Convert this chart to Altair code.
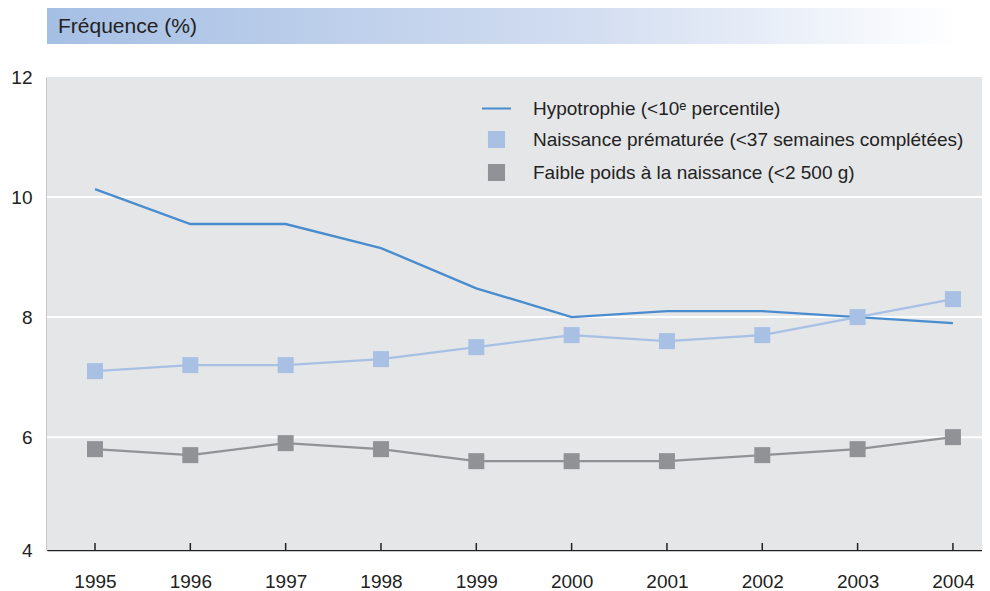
import altair as alt
import pandas as pd

years = [1995, 1996, 1997, 1998, 1999, 2000, 2001, 2002, 2003, 2004]
series_names = [
    "Hypotrophie (<10ᵉ percentile)",
    "Naissance prématurée (<37 semaines complétées)",
    "Faible poids à la naissance (<2 500 g)",
]
hypotrophie = [10.13, 9.55, 9.55, 9.15, 8.48, 8.0, 8.1, 8.1, 8.0, 7.9]
premature = [7.1, 7.2, 7.2, 7.3, 7.5, 7.7, 7.6, 7.7, 8.0, 8.3]
faible_poids = [5.8, 5.7, 5.9, 5.8, 5.6, 5.6, 5.6, 5.7, 5.8, 6.0]
colors = ["#4a8dcf", "#a7c0e4", "#919295"]
y_min, y_max = 4.12, 12
y_ticks = [y_min, 6, 8, 10, 12]
grid_values = [6, 8, 10]

rows = []
for name, vals in zip(series_names, [hypotrophie, premature, faible_poids]):
    for yr, v in zip(years, vals):
        rows.append({"year": yr, "series": name, "value": v})
df = pd.DataFrame(rows)
ticks_df = pd.DataFrame({"year": years})
grid_df = pd.DataFrame({"value": grid_values})

W, H = 935, 473
FONT = "Liberation Sans"

xscale = alt.Scale(domain=[1994.4965, 2004.305], nice=False, zero=False)
yscale = alt.Scale(domain=[y_min, y_max], nice=False, zero=False)
cscale = alt.Scale(domain=series_names, range=colors)

x_enc = alt.X("year:Q", scale=xscale,
              axis=alt.Axis(values=years, format="d", title=None, grid=False,
                            ticks=False, tickSize=0, labelPadding=22,
                            labelFontSize=19, labelColor="#222222", labelFont=FONT,
                            domainColor="#222222", domainWidth=1.5))
y_enc = alt.Y("value:Q", scale=yscale,
              axis=alt.Axis(values=y_ticks, labelExpr="round(datum.value)", title=None,
                            grid=False, ticks=False, tickSize=0, labelPadding=15,
                            labelFontSize=19, labelColor="#222222", labelFont=FONT,
                            domainColor="#222222", domainWidth=1.5))

bg = alt.Chart(pd.DataFrame({"a": [0]})).mark_rect(fill="#e5e6e8").encode(
    x=alt.value(0), x2=alt.value(W), y=alt.value(0), y2=alt.value(H)
)

band = alt.Chart(pd.DataFrame({"t": ["Fréquence (%)"]})).mark_rect(
    fill=alt.Gradient(gradient="linear",
                      stops=[alt.GradientStop(color="#a5bfe4", offset=0),
                             alt.GradientStop(color="#d3def1", offset=0.6),
                             alt.GradientStop(color="#ffffff", offset=1)],
                      x1=0, x2=1, y1=0, y2=0)
).encode(x=alt.value(0), x2=alt.value(912), y=alt.value(-69), y2=alt.value(-33))

title_text = alt.Chart(pd.DataFrame({"t": ["Fréquence (%)"]})).mark_text(
    align="left", baseline="middle", fontSize=21, font=FONT, color="#222222"
).encode(text="t:N", x=alt.value(11), y=alt.value(-50))

grid = alt.Chart(grid_df).mark_rule(color="white", strokeWidth=2).encode(
    y=alt.Y("value:Q", scale=yscale), x=alt.value(0), x2=alt.value(W)
)

lines = alt.Chart(df).mark_line(strokeWidth=2.4).encode(
    x=x_enc, y=y_enc,
    color=alt.Color("series:N", scale=cscale, legend=None),
    order="year:Q",
)

square_path = "M-0.52,-0.52L0.52,-0.52L0.52,0.52L-0.52,0.52Z"
points = alt.Chart(df).transform_filter(
    alt.datum.series != series_names[0]
).mark_square(size=256, filled=True, opacity=1).encode(
    x=x_enc, y=y_enc,
    color=alt.Color("series:N", scale=cscale,
                    legend=alt.Legend(
                        title=None, orient="none", legendX=434, legendY=16,
                        padding=0, labelFontSize=19, labelFont=FONT,
                        labelColor="#222222", labelOffset=21, rowPadding=5,
                        symbolSize=841, symbolStrokeWidth=2,
                        symbolOpacity=1,
                        symbolType=alt.ExprRef(
                            expr=f"datum.value == '{series_names[0]}' ? 'stroke' : '{square_path}'"),
                        symbolStrokeColor=alt.ExprRef(expr="scale('color', datum.value)"),
                        labelLimit=600,
                    )),
)

tick_rules = alt.Chart(ticks_df).mark_rule(color="#222222", strokeWidth=1.5).encode(
    x=alt.X("year:Q", scale=xscale), y=alt.value(H - 7), y2=alt.value(H)
)

chart = alt.layer(bg, band, title_text, grid, lines, points, tick_rules).resolve_legend(
    color="independent"
).properties(
    width=W, height=H,
    autosize=alt.AutoSizeParams(type="none"),
    padding={"left": 39, "top": 69, "right": 0, "bottom": 41},
).configure_view(stroke=None).configure(background="white")

chart.save("out.html", embed_options={"renderer": "svg", "actions": False})
